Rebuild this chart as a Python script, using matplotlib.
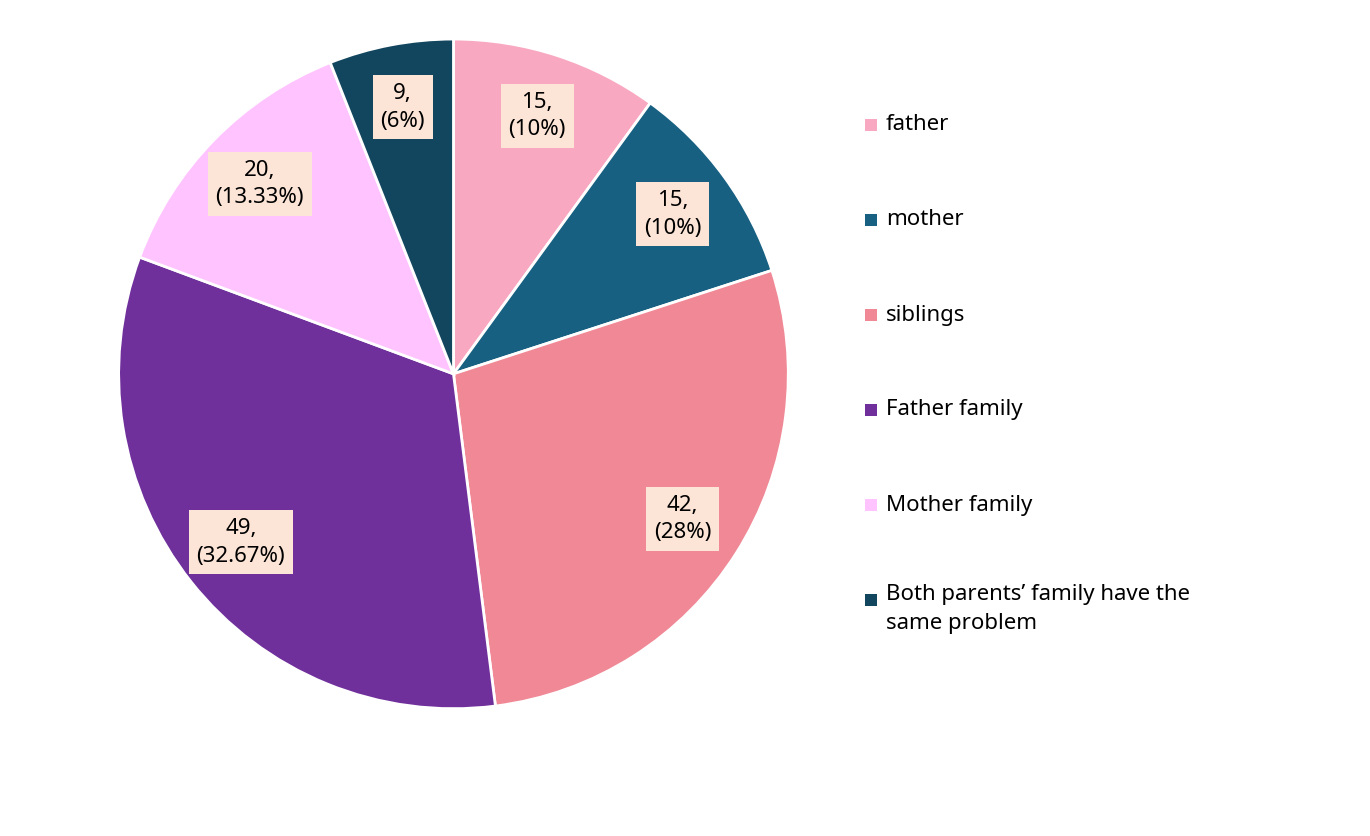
import numpy as np
import matplotlib.pyplot as plt
from matplotlib.patches import Rectangle

plt.rcParams['font.family'] = ['Noto Sans', 'DejaVu Sans']

labels = ["father", "mother", "siblings", "Father family", "Mother family",
          "Both parents\u2019 family have the\nsame problem"]
values = [15, 15, 42, 49, 20, 9]
pct_text = ["10%", "10%", "28%", "32.67%", "13.33%", "6%"]
colors = ["#F9A8C2", "#176082", "#F08896", "#70309C", "#FFC4FF", "#12465F"]

fig = plt.figure(figsize=(13.7, 8.36), dpi=100)
ax = fig.add_axes([0.331 - 0.2445, 0.553 - 0.4007, 0.489, 0.801])
ax.pie(values, colors=colors, startangle=90, counterclock=False,
       wedgeprops=dict(edgecolor="white", linewidth=2))
ax.set_xlim(-1, 1)
ax.set_ylim(-1, 1)
ax.set_aspect("equal")

total = sum(values)
angle = 90.0
for v, p in zip(values, pct_text):
    span = 360.0 * v / total
    mid = np.deg2rad(angle - span / 2)
    angle -= span
    r = 0.81
    ax.text(r * np.cos(mid), r * np.sin(mid), f"{v},\n({p})", ha="center", va="center",
            fontsize=16, fontweight="semibold", linespacing=1.4,
            bbox=dict(boxstyle="square,pad=0.35", facecolor="#FCE4D6", edgecolor="none"))

ys = [125, 220, 315, 410, 505, 600]
for lab, c, y in zip(labels, colors, ys):
    fig.patches.append(Rectangle((865 / 1370, 1 - (y + 6) / 836), 12 / 1370, 12 / 836,
                                 transform=fig.transFigure, facecolor=c, edgecolor="none"))
    if "\n" in lab:
        fig.text(886 / 1370, 1 - (y - 16) / 836, lab, ha="left", va="top",
                 fontsize=16, fontweight="semibold", linespacing=1.5)
    else:
        fig.text(886 / 1370, 1 - y / 836, lab, ha="left", va="center",
                 fontsize=16, fontweight="semibold")

fig.savefig("out.png", dpi=100)
